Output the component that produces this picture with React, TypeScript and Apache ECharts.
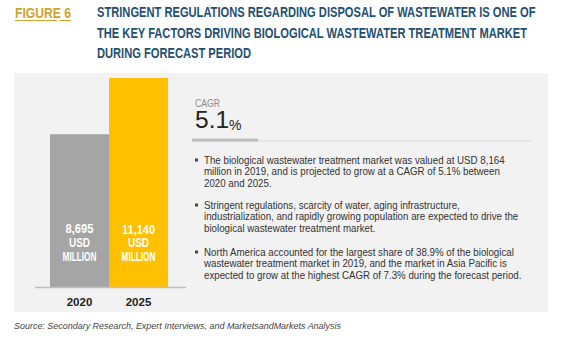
import React, { useEffect, useRef } from "react";
import * as echarts from "echarts";

const categories = ["2020", "2025"];
const values = [8695, 11140];
const valueLabels = ["8,695", "11,140"];
const unitLines = ["USD", "MILLION"];
const barColors = ["#a5a5a5", "#ffc000"];
const cagr = "5.1";
const bullets = [
  "The biological wastewater treatment market was valued at USD 8,164\nmillion in 2019, and is projected to grow at a CAGR of 5.1% between\n2020 and 2025.",
  "Stringent regulations, scarcity of water, aging infrastructure,\nindustrialization, and rapidly growing population are expected to drive the\nbiological wastewater treatment market.",
  "North America accounted for the largest share of 38.9% of the biological\nwastewater treatment market in 2019, and the market in Asia Pacific is\nexpected to grow at the highest CAGR of 7.3% during the forecast period.",
];
const titleLines = [
  "STRINGENT REGULATIONS REGARDING DISPOSAL OF WASTEWATER IS ONE OF",
  "THE KEY FACTORS DRIVING BIOLOGICAL WASTEWATER TREATMENT MARKET",
  "DURING FORECAST PERIOD",
];
const sourceText = "Source: Secondary Research, Expert Interviews, and MarketsandMarkets Analysis";

const SANS = '"Liberation Sans", Arial, sans-serif';

function measure(text: string, font: string): number {
  const c = document.createElement("canvas").getContext("2d");
  if (!c) return text.length * 6;
  c.font = font;
  return c.measureText(text).width;
}

export default function App() {
  const ref = useRef<HTMLDivElement>(null);
  useEffect(() => {
    if (!ref.current) return;
    const chart = echarts.init(ref.current, null, { renderer: "svg" });

    const titleFont = `bold 14px ${SANS}`;
    const titleScale = 439 / measure(titleLines[0], titleFont);
    const figScale = 56 / measure("FIGURE 6", titleFont);
    const cagrFont = `11px ${SANS}`;
    const cagrScale = 25 / measure("CAGR", cagrFont);
    const bulletFont = `10px ${SANS}`;
    const bulletScale = 301 / measure(bullets[0].split("\n")[0], bulletFont);
    const srcFont = `italic 9.5px ${SANS}`;
    const srcScale = 328 / measure(sourceText, srcFont);
    const barFont = `bold 12.5px ${SANS}`;
    const condensed = (t: string, target: number) => Math.min(1, target / measure(t, barFont));

    chart.setOption({
      animation: false,
      grid: { left: 50, width: 118, top: 78, bottom: 51 },
      xAxis: {
        type: "category",
        data: categories,
        axisLine: { show: false },
        axisTick: { show: false },
        axisLabel: { color: "#222222", fontFamily: SANS, fontWeight: "bold", fontSize: 11.5, margin: 8 },
      },
      yAxis: { type: "value", min: 2000, max: 11140, show: false, splitLine: { show: false } },
      series: [
        {
          type: "bar",
          barCategoryGap: 0,
          data: values.map((v, i) => ({ value: v, itemStyle: { color: barColors[i] } })),
          label: { show: false },
        },
      ],
    });

    const bulletTops = [160, 205, 252];
    const graphics: any[] = [
      { type: "rect", z: -10, shape: { x: 14, y: 73, width: 534, height: 239 }, style: { fill: "#f2f2f2" } },
      { type: "line", z: 10, shape: { x1: 35, y1: 287.5, x2: 186, y2: 287.5 }, style: { stroke: "#bfbfbf", lineWidth: 1.5 } },
      {
        type: "text", x: 15, y: 13, scaleX: figScale,
        style: { text: "FIGURE 6", fill: "#cfa32b", font: titleFont, textVerticalAlign: "middle" },
      },
      { type: "line", shape: { x1: 15, y1: 20.5, x2: 57, y2: 20.5 }, style: { stroke: "#cfa32b", lineWidth: 1 } },
      { type: "line", shape: { x1: 60, y1: 20.5, x2: 71, y2: 20.5 }, style: { stroke: "#cfa32b", lineWidth: 1 } },
      {
        type: "text", x: 97, y: 2.75, scaleX: titleScale,
        style: { text: titleLines.join("\n"), fill: "#1f5070", font: titleFont, lineHeight: 20.5, textVerticalAlign: "top" },
      },
      {
        type: "text", x: 195, y: 103, scaleX: cagrScale,
        style: { text: "CAGR", fill: "#8c8c8c", font: cagrFont, textVerticalAlign: "middle" },
      },
      {
        type: "text", x: 195, y: 132,
        style: {
          text: `{a|${cagr}}{b|%}`,
          textVerticalAlign: "bottom",
          rich: {
            a: { fontSize: 24.5, fontFamily: SANS, fill: "#222222", verticalAlign: "bottom" },
            b: { fontSize: 14, fontFamily: SANS, fill: "#222222", verticalAlign: "bottom" },
          },
        },
      },
      { type: "line", shape: { x1: 192, y1: 141, x2: 533, y2: 141 }, style: { stroke: "#dcdcdc", lineWidth: 1 } },
      { type: "rect", shape: { x: 192, y: 138.5, width: 66, height: 3 }, style: { fill: "#bdbdbd" } },
      {
        type: "text", x: 14, y: 326, scaleX: srcScale,
        style: { text: sourceText, fill: "#444444", font: srcFont, textVerticalAlign: "middle" },
      },
    ];
    bullets.forEach((b, i) => {
      graphics.push({ type: "rect", shape: { x: 195, y: bulletTops[i] - 1.5, width: 3, height: 3 }, style: { fill: "#444444" } });
      graphics.push({
        type: "text", x: 204, y: bulletTops[i] - 5.9, scaleX: bulletScale,
        style: { text: b, fill: "#333333", font: bulletFont, lineHeight: 11.8, textVerticalAlign: "top" },
      });
    });
    const valueTargets = [28, 33];
    const unitTargets = [21, 34];
    categories.forEach((c, i) => {
      const cx = chart.convertToPixel({ xAxisIndex: 0 }, c) as number;
      const by = chart.convertToPixel({ yAxisIndex: 0 }, 2000) as number;
      const lines = [valueLabels[i], ...unitLines];
      const targets = [valueTargets[i], ...unitTargets];
      const ys = [by - 59, by - 45.5, by - 32];
      lines.forEach((t, j) => {
        graphics.push({
          type: "text", x: cx, y: ys[j], scaleX: condensed(t, targets[j]), z: 20,
          style: { text: t, fill: "#ffffff", font: barFont, textAlign: "center", textVerticalAlign: "middle" },
        });
      });
    });

    chart.setOption({ graphic: graphics });
    return () => chart.dispose();
  }, []);
  return <div ref={ref} style={{ position: "fixed", left: 0, top: 0, width: 569, height: 339, background: "#ffffff" }} />;
}
